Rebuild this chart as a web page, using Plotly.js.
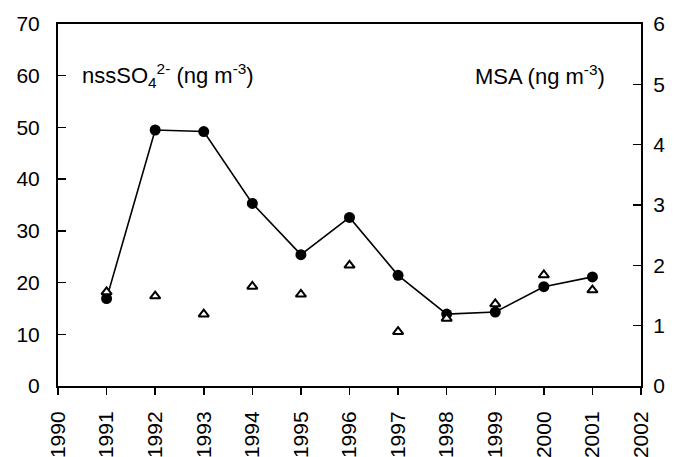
<!DOCTYPE html>
<html>
<head>
<meta charset="utf-8">
<script src="https://cdn.plot.ly/plotly-3.0.1.min.js"></script>
<style>
  html, body { margin: 0; padding: 0; background: #fff; }
  #chart { width: 674px; height: 457px; }
</style>
</head>
<body>
<div id="chart"></div>
<script>
// Annual means, 1991-2001
const years = [1991, 1992, 1993, 1994, 1995, 1996, 1997, 1998, 1999, 2000, 2001];
// non-sea-salt sulfate, ng m-3 (left axis)
const nssSO4 = [16.9, 49.5, 49.2, 35.3, 25.4, 32.6, 21.4, 13.9, 14.3, 19.2, 21.1];
// methanesulfonate, ng m-3 (right axis)
const msa = [1.56, 1.49, 1.19, 1.65, 1.52, 2.00, 0.90, 1.12, 1.36, 1.84, 1.59];

const yearTicks = [1990, 1991, 1992, 1993, 1994, 1995, 1996, 1997, 1998, 1999, 2000, 2001, 2002];
const leftTicks = [0, 10, 20, 30, 40, 50, 60, 70];
const rightTicks = [0, 1, 2, 3, 4, 5, 6];

const FONT = '"Liberation Sans", Arial, sans-serif';

const traces = [
  {
    x: years, y: nssSO4, type: 'scatter', mode: 'lines+markers',
    xaxis: 'x', yaxis: 'y',
    line: { color: '#000', width: 1.6 },
    marker: { symbol: 'circle', size: 11, color: '#000' },
    showlegend: false, hoverinfo: 'x+y'
  },
  {
    x: years, y: msa, type: 'scatter', mode: 'markers',
    xaxis: 'x', yaxis: 'y2',
    marker: { symbol: 'triangle-up', size: 9, color: '#fff', line: { color: '#000', width: 2 } },
    showlegend: false, hoverinfo: 'x+y'
  }
];

const layout = {
  width: 674, height: 457,
  margin: { l: 58, r: 33, t: 24, b: 71 },
  paper_bgcolor: '#fff', plot_bgcolor: '#fff',
  font: { family: FONT, size: 21, color: '#000' },
  xaxis: {
    range: [1990, 2002], tickvals: yearTicks, ticktext: yearTicks.map(String),
    tickangle: -90, ticks: 'outside', ticklen: 7, tickwidth: 1.5, tickcolor: '#000',
    showline: true, linecolor: '#000', linewidth: 2, mirror: true,
    showgrid: false, zeroline: false, ticklabelstandoff: 8,
    tickfont: { family: FONT, size: 21 }
  },
  // inner half of the crossing year ticks
  xaxis2: {
    range: [1990, 2002], tickvals: yearTicks, overlaying: 'x', anchor: 'y',
    ticks: 'inside', ticklen: 7, tickwidth: 1.5, tickcolor: '#000',
    showticklabels: false, showline: false, showgrid: false, zeroline: false
  },
  yaxis: {
    range: [0, 70], tickvals: leftTicks, ticks: 'inside', ticklen: 8, tickwidth: 1.5, tickcolor: '#000',
    showline: true, linecolor: '#000', linewidth: 2,
    showgrid: false, zeroline: false, ticklabelstandoff: 12,
    tickfont: { family: FONT, size: 21 }
  },
  yaxis2: {
    range: [0, 6], tickvals: rightTicks, overlaying: 'y', side: 'right', anchor: 'x',
    ticks: 'inside', ticklen: 8, tickwidth: 1.5, tickcolor: '#000',
    showline: true, linecolor: '#000', linewidth: 2,
    showgrid: false, zeroline: false, ticklabelstandoff: 6,
    tickfont: { family: FONT, size: 21 }
  },
  annotations: [
    {
      xref: 'paper', yref: 'paper', x: 0.038, y: 0.858, xanchor: 'left', yanchor: 'middle',
      text: 'nssSO<sub>4</sub><sup>2-</sup> (ng m<sup>-3</sup>)', showarrow: false,
      font: { family: FONT, size: 22, color: '#000' }
    },
    {
      xref: 'paper', yref: 'paper', x: 0.941, y: 0.858, xanchor: 'right', yanchor: 'middle',
      text: 'MSA (ng m<sup>-3</sup>)', showarrow: false,
      font: { family: FONT, size: 22, color: '#000' }
    }
  ]
};

Plotly.newPlot('chart', traces, layout, { displayModeBar: false, staticPlot: true });
</script>
</body>
</html>
